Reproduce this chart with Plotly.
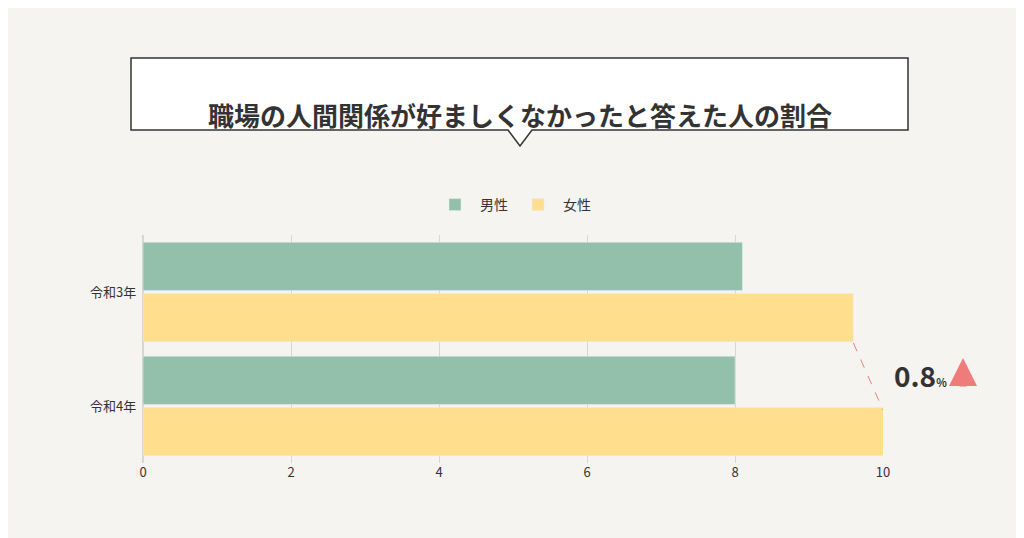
import plotly.graph_objects as go

categories = ["令和3年", "令和4年"]
male = [8.1, 8.0]
female = [9.6, 10.4]
x_ticks = [0, 2, 4, 6, 8, 10]
diff_label = "0.8"

W, H = 1024, 538
L, R, T, B = 135, 875, 227, 455

def px(X):
    return (X - L) / (R - L)

def py(Y):
    return (B - Y) / (B - T)

font = "Noto Sans CJK JP"
fig = go.Figure()
fig.add_bar(y=categories, x=male, name="男性", orientation="h", marker_color="#93c0aa")
fig.add_bar(y=categories, x=female, name="女性", orientation="h", marker_color="#ffdf8e")

# speech-bubble title box
path = (f"M {px(123)} {py(50)} L {px(900)} {py(50)} L {px(900)} {py(122)} "
        f"L {px(524)} {py(122)} L {px(512)} {py(138)} L {px(500)} {py(122)} "
        f"L {px(123)} {py(122)} Z")
fig.add_shape(type="path", path=path, xref="paper", yref="paper",
              fillcolor="white", line=dict(color="#333333", width=1.5))
fig.add_annotation(x=px(512), y=py(86), xref="paper", yref="paper", showarrow=False,
                   text="<b>職場の人間関係が好ましくなかったと答えた人の割合</b>",
                   font=dict(size=26, color="#333333", family=font))

# dashed connector between female bars
fig.add_shape(type="line", x0=female[0], x1=10, xref="x", yref="paper",
              y0=py(335), y1=py(402), line=dict(color="#f07b7b", width=1, dash="dash"))
fig.add_annotation(x=px(884), y=py(367), xref="paper", yref="paper", showarrow=False,
                   xanchor="left",
                   text=f"<b>{diff_label}</b><span style='font-size:11px'><b>%</b></span>",
                   font=dict(size=28, color="#333333", family=font))
fig.add_annotation(x=px(955), y=py(350), ax=0, ay=30, xref="paper", yref="paper",
                   axref="pixel", ayref="pixel", showarrow=True, text="",
                   arrowhead=2, arrowsize=0.8, arrowwidth=7, arrowcolor="#f07b7b")

fig.update_layout(
    width=W, height=H, barmode="group", bargap=0.1, bargroupgap=0.06,
    paper_bgcolor="#f5f4f0", plot_bgcolor="#f5f4f0",
    margin=dict(l=L, r=W - R, t=T, b=H - B),
    font=dict(family=font, size=13, color="#333333"),
    legend=dict(orientation="h", x=0.5, xanchor="center", y=py(197), yanchor="middle",
                font=dict(size=14), itemwidth=40),
    xaxis=dict(range=[0, 10], tickvals=x_ticks, showgrid=True, gridcolor="#d6d6d6",
               zeroline=True, zerolinecolor="#d6d6d6", ticks="", tickfont=dict(size=13)),
    yaxis=dict(autorange="reversed", ticks="", ticksuffix="  "),
    showlegend=True,
)

fig.write_html("out.html")
